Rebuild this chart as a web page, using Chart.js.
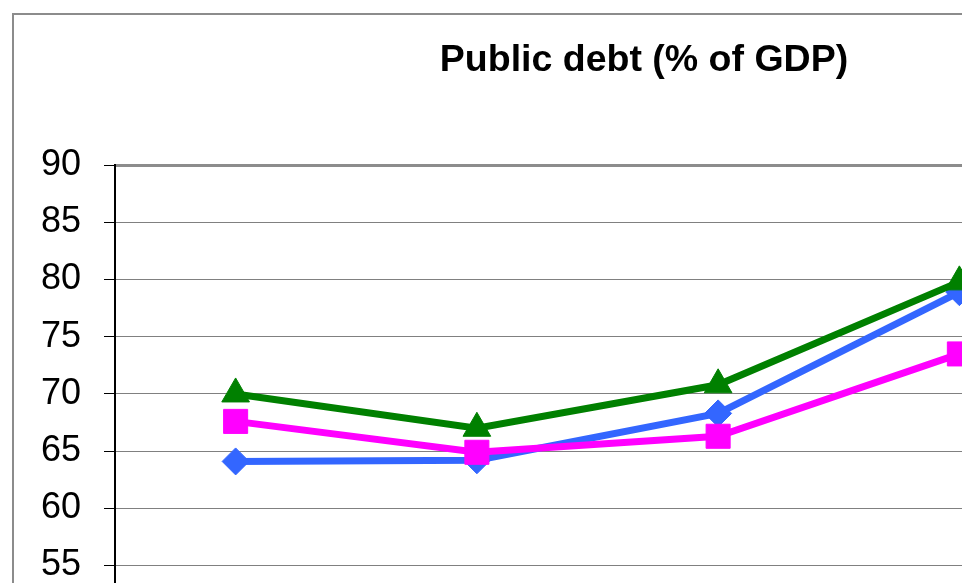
<!DOCTYPE html>
<html>
<head>
<meta charset="utf-8">
<title>Public debt (% of GDP)</title>
<script src="https://cdn.jsdelivr.net/npm/chart.js@4.4.1/dist/chart.umd.min.js"></script>
<style>
  html, body { margin: 0; padding: 0; background: #fff; overflow: hidden; }
  #frame {
    position: absolute; left: 12px; top: 13px;
    width: 1262px; height: 700px;
    border: 2px solid #8c8c8c;
  }
  #debtChart { position: absolute; left: 0; top: 0; }
</style>
</head>
<body>
<div id="frame"></div>
<canvas id="debtChart" width="1290" height="720"></canvas>
<script>
// years on the category axis
const years = ['2006', '2007', '2008', '2009'];

// debt ratios, % of GDP
const france = [64.1, 64.2, 68.3, 78.9];
const germany = [67.6, 64.9, 66.3, 73.5];
const euroArea = [70.0, 67.0, 70.8, 79.8];

// value axis
const yMin = 50;
const yMax = 90;
const yStep = 5;

const FONT = '"Liberation Sans", Arial, sans-serif';

function series(label, data, color, style, radius, order) {
  return {
    label,
    data,
    borderColor: color,
    backgroundColor: color,
    borderWidth: 7,
    pointStyle: style,
    pointRadius: radius,
    pointHoverRadius: radius,
    pointBorderWidth: 1,
    pointBorderColor: color,
    pointBackgroundColor: color,
    tension: 0,
    order
  };
}

const ctx = document.getElementById('debtChart').getContext('2d');
new Chart(ctx, {
  type: 'line',
  data: {
    labels: years,
    datasets: [
      series('France', france, '#3366ff', 'rectRot', 13.5, 3),
      series('Germany', germany, '#ff00ff', 'rect', 17, 2),
      series('Euro area', euroArea, '#008000', 'triangle', 16, 1)
    ]
  },
  options: {
    responsive: false,
    devicePixelRatio: 1,
    animation: false,
    layout: { padding: { left: 14, right: 16, top: 15, bottom: 14 } },
    plugins: {
      title: {
        display: true,
        text: 'Public debt (% of GDP)',
        color: '#000',
        font: { family: FONT, size: 37.5, weight: 'bold' },
        padding: { top: 23, bottom: 82.2 }
      },
      legend: {
        display: true,
        position: 'right',
        maxWidth: 194,
        labels: { color: '#000', font: { family: FONT, size: 32 }, boxWidth: 40 }
      },
      tooltip: { enabled: false }
    },
    scales: {
      x: {
        offset: true,
        afterFit: (scale) => { scale.height = 83.3; },
        grid: { display: false, offset: true },
        border: { color: '#000', width: 2 },
        ticks: { color: '#000', font: { family: FONT, size: 36 } }
      },
      y: {
        min: yMin,
        max: yMax,
        afterFit: (scale) => { scale.width = 101; },
        grid: {
          color: (c) => (c.tick && c.tick.value === yMax ? '#8c8c8c' : '#808080'),
          lineWidth: (c) => (c.tick && c.tick.value === yMax ? 3 : 1),
          tickColor: '#000',
          tickWidth: 1,
          tickLength: 11
        },
        border: { color: '#000', width: 2 },
        ticks: {
          stepSize: yStep,
          padding: 23,
          color: '#000',
          font: { family: FONT, size: 36 }
        }
      }
    }
  }
});
</script>
</body>
</html>
